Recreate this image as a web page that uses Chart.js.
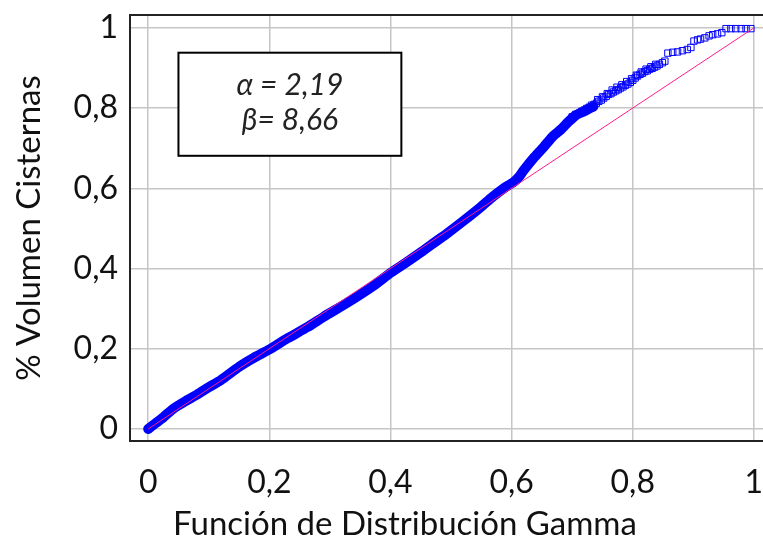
<!DOCTYPE html>
<html>
<head>
<meta charset="utf-8">
<script src="https://cdn.jsdelivr.net/npm/chart.js@4.4.0/dist/chart.umd.min.js"></script>
<style>
  html, body { margin: 0; padding: 0; background: #fff; overflow: hidden; }
  #wrap { width: 770px; height: 545px; }
</style>
</head>
<body>
<div id="wrap"><canvas id="ppChart"></canvas></div>
<script>
// axis ticks
const tickValues = [0, 0.2, 0.4, 0.6, 0.8, 1];
const tickLabels = ['0', '0,2', '0,4', '0,6', '0,8', '1'];

// dense part of the sample: centre of the band of points
const bandX = [0.000, 0.012, 0.025, 0.041, 0.060, 0.081, 0.100, 0.120, 0.150, 0.175,
               0.200, 0.230, 0.263, 0.290, 0.317, 0.345, 0.372, 0.401, 0.425, 0.450,
               0.470, 0.494, 0.520, 0.549, 0.568, 0.587, 0.603, 0.612, 0.620, 0.636,
               0.653, 0.669, 0.681, 0.694, 0.706, 0.720, 0.735];
const bandY = [0.000, 0.014, 0.029, 0.050, 0.068, 0.086, 0.104, 0.122, 0.155, 0.178,
               0.198, 0.226, 0.254, 0.280, 0.304, 0.330, 0.357, 0.390, 0.414, 0.440,
               0.462, 0.488, 0.518, 0.553, 0.578, 0.600, 0.615, 0.628, 0.645, 0.675,
               0.703, 0.731, 0.746, 0.766, 0.782, 0.792, 0.804];

// upper tail: individual points
const tailX = [0.700, 0.706, 0.712, 0.716, 0.720, 0.724, 0.728, 0.732, 0.736, 0.740,
               0.744, 0.748, 0.752, 0.756, 0.760, 0.764, 0.768, 0.772, 0.776, 0.780,
               0.784, 0.788, 0.792, 0.796, 0.800, 0.804, 0.808, 0.812, 0.816, 0.820,
               0.824, 0.828, 0.832, 0.836, 0.840, 0.844, 0.849, 0.853,
               0.742, 0.750, 0.758, 0.766, 0.774, 0.782, 0.790, 0.798, 0.806, 0.814,
               0.822, 0.830, 0.838,
               0.858, 0.866, 0.874, 0.882, 0.890, 0.896,
               0.901, 0.907, 0.912, 0.919, 0.926, 0.932, 0.940, 0.947,
               0.954, 0.962, 0.970, 0.979, 0.987, 0.995];
const tailY = [0.778, 0.784, 0.787, 0.792, 0.795, 0.799, 0.802, 0.807, 0.809, 0.812,
               0.817, 0.820, 0.825, 0.829, 0.834, 0.836, 0.840, 0.843, 0.846, 0.850,
               0.853, 0.857, 0.860, 0.864, 0.869, 0.875, 0.880, 0.884, 0.887, 0.891,
               0.893, 0.897, 0.899, 0.902, 0.905, 0.909, 0.913, 0.917,
               0.821, 0.828, 0.836, 0.845, 0.852, 0.858, 0.866, 0.873, 0.882, 0.890,
               0.897, 0.903, 0.909,
               0.937, 0.939, 0.940, 0.943, 0.946, 0.951,
               0.967, 0.970, 0.972, 0.975, 0.980, 0.983, 0.985, 0.988,
               0.998, 0.998, 0.998, 0.998, 0.998, 0.998];

// reference diagonal
const refX = [0, 1];
const refY = [0, 1];

// fitted gamma parameters
const paramLines = ['\u03b1 = 2,19', '\u03b2= 8,66'];
const xTitle = 'Función de Distribución Gamma';

const BLUE = '#0000ff';
const PINK = '#ff1a8c';
const GRID = '#c6c6c6';
const FONT = 'Lato';

const toPoints = (xs, ys) => xs.map((x, i) => ({ x: x, y: ys[i] }));

// frame on left/top/bottom, the parameter box and the x title
const framePlugin = {
  id: 'frame',
  afterDraw(chart) {
    const { ctx, chartArea: a, scales } = chart;
    ctx.save();
    ctx.strokeStyle = '#222';
    ctx.lineWidth = 2;
    ctx.beginPath();
    ctx.moveTo(a.right + 2, a.top);
    ctx.lineTo(a.left, a.top);
    ctx.lineTo(a.left, a.bottom);
    ctx.lineTo(a.right + 2, a.bottom);
    ctx.stroke();

    const x0 = scales.x.getPixelForValue(0.05);
    const x1 = scales.x.getPixelForValue(0.418);
    const y0 = scales.y.getPixelForValue(0.938);
    const y1 = scales.y.getPixelForValue(0.681);
    ctx.fillStyle = '#fff';
    ctx.fillRect(x0, y0, x1 - x0, y1 - y0);
    ctx.strokeStyle = '#000';
    ctx.strokeRect(x0, y0, x1 - x0, y1 - y0);

    ctx.fillStyle = '#222';
    ctx.font = 'italic 30px ' + FONT;
    ctx.textAlign = 'center';
    ctx.textBaseline = 'middle';
    const cx = (x0 + x1) / 2;
    ctx.fillText(paramLines[0], cx, y0 + 33);
    ctx.fillText(paramLines[1], cx, y0 + 68);

    ctx.fillStyle = '#111';
    ctx.font = '33px ' + FONT;
    ctx.fillText(xTitle, scales.x.getPixelForValue(0.424), 524);
    ctx.restore();
  }
};

new Chart(document.getElementById('ppChart'), {
  type: 'scatter',
  data: {
    datasets: [
      {
        label: 'Referencia',
        data: toPoints(refX, refY),
        showLine: true,
        borderColor: PINK,
        borderWidth: 1,
        pointRadius: 0
      },
      {
        label: 'Muestra',
        data: toPoints(bandX, bandY),
        showLine: true,
        borderColor: BLUE,
        borderWidth: 10,
        borderCapStyle: 'round',
        tension: 0.2,
        pointRadius: 0
      },
      {
        label: 'Muestra (cola)',
        data: toPoints(tailX, tailY),
        showLine: false,
        pointStyle: 'rect',
        pointRadius: 4.5,
        borderColor: BLUE,
        borderWidth: 1,
        backgroundColor: 'rgba(0,0,0,0)'
      }
    ]
  },
  options: {
    responsive: true,
    maintainAspectRatio: false,
    animation: false,
    layout: { padding: { top: 15, right: 0, left: 0, bottom: 0 } },
    plugins: {
      legend: { display: false },
      tooltip: { enabled: false }
    },
    scales: {
      x: {
        type: 'linear',
        min: -0.03,
        max: 1.0175,
        afterBuildTicks: (axis) => { axis.ticks = tickValues.map(v => ({ value: v })); },
        afterFit: (axis) => { axis.height = 104; axis.paddingLeft = 0; axis.paddingRight = 0; },
        ticks: {
          callback: (v, i) => tickLabels[i],
          color: '#111',
          font: { family: FONT, size: 32 },
          padding: 22,
          maxRotation: 0
        },
        grid: { color: GRID, lineWidth: 1.5, drawTicks: false },
        border: { display: false }
      },
      y: {
        type: 'linear',
        min: -0.03,
        max: 1.032,
        afterBuildTicks: (axis) => { axis.ticks = tickValues.map(v => ({ value: v })); },
        afterFit: (axis) => { axis.width = 130; axis.paddingTop = 0; axis.paddingBottom = 0; },
        ticks: {
          callback: (v, i) => tickLabels[i],
          color: '#111',
          font: { family: FONT, size: 32 },
          padding: 12
        },
        grid: { color: GRID, lineWidth: 1.5, drawTicks: false },
        border: { display: false },
        title: {
          display: true,
          text: '% Volumen Cisternas',
          color: '#111',
          font: { family: FONT, size: 33 },
          padding: { top: 10, bottom: 0 }
        }
      }
    }
  },
  plugins: [framePlugin]
});
</script>
</body>
</html>
